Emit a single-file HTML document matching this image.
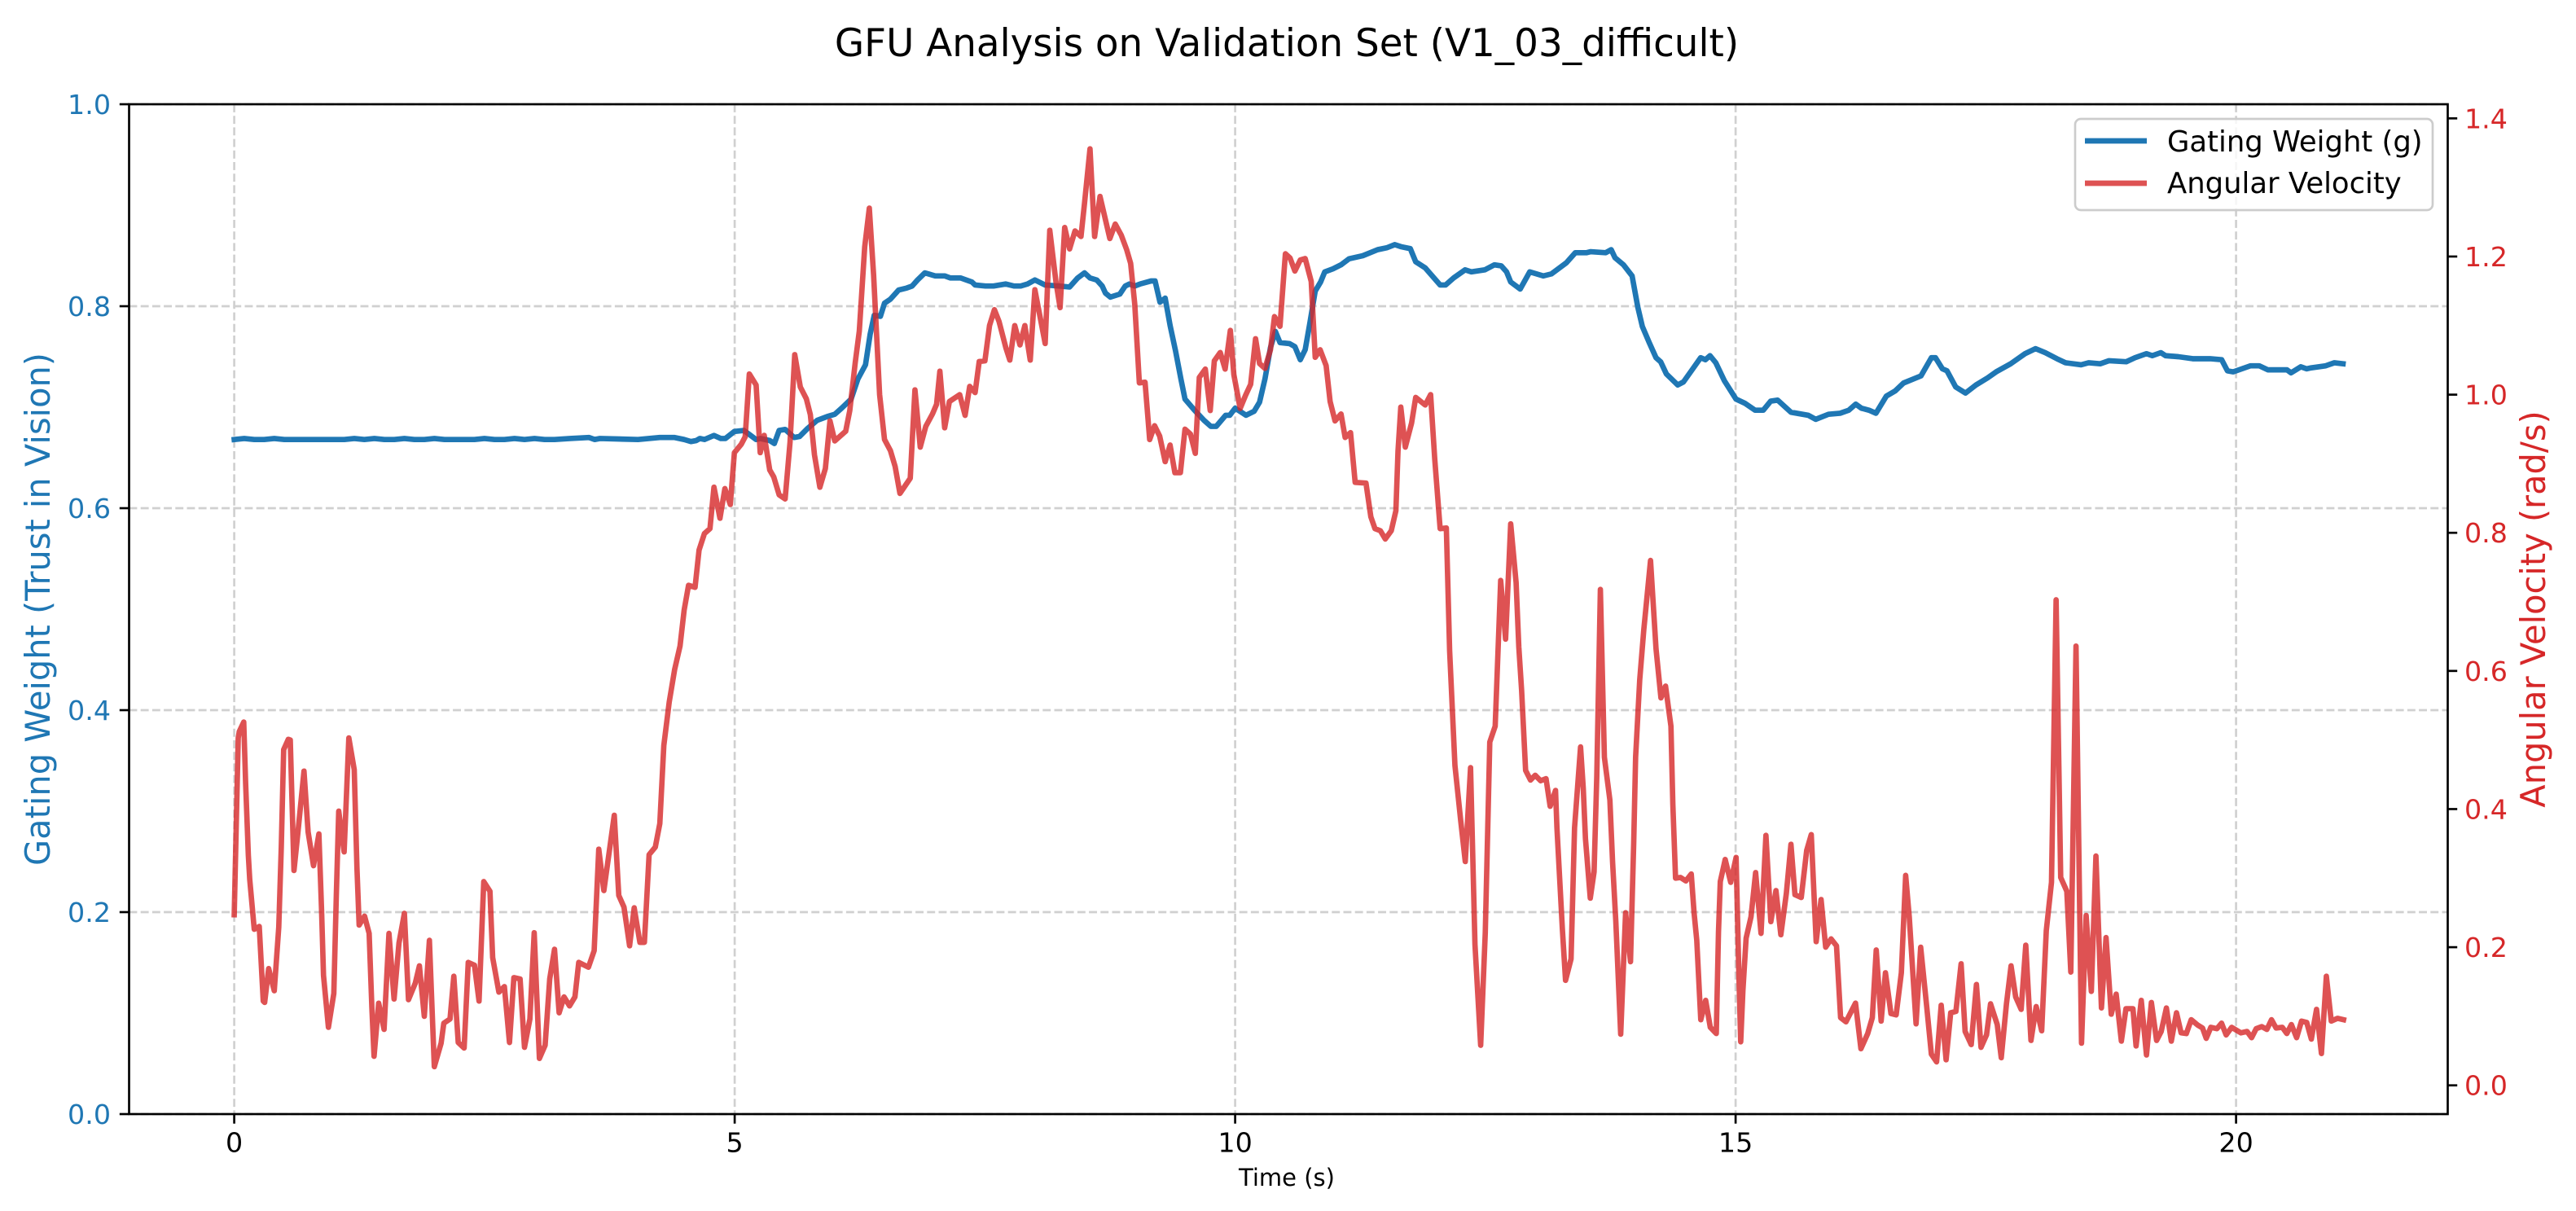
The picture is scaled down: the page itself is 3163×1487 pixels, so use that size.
<!DOCTYPE html>
<html lang="en">
<head>
<meta charset="utf-8">
<title>GFU Analysis on Validation Set (V1_03_difficult)</title>
<style>
html,body{margin:0;padding:0;background:#fff;width:3163px;height:1487px;overflow:hidden}
svg{display:block}
text{font-family:"DejaVu Sans","Liberation Sans",sans-serif}
</style>
</head>
<body>
<svg id="chart" xmlns="http://www.w3.org/2000/svg" width="3163" height="1487" viewBox="0 0 3163 1487">
  <rect x="0" y="0" width="3163" height="1487" fill="#ffffff"/>
  <text x="1580" y="69" font-size="46.8" text-anchor="middle" fill="#000">GFU Analysis on Validation Set (V1_03_difficult)</text>
  <g id="grid-layer"></g>
  <g id="series-layer"></g>
  <g id="axes-layer"></g>
  <text x="1580" y="1456" font-size="29" text-anchor="middle" fill="#000">Time (s)</text>
  <text transform="translate(47,748) rotate(-90)" y="14" font-size="41.5" text-anchor="middle" fill="#1f77b4">Gating Weight (Trust in Vision)</text>
  <text transform="translate(3111,748) rotate(-90)" y="14" font-size="41.5" text-anchor="middle" fill="#d62728">Angular Velocity (rad/s)</text>
  <g>
    <rect x="2548" y="146" width="439" height="112" rx="7" ry="7" fill="#ffffff" fill-opacity="0.8" stroke="#cccccc" stroke-width="2.67"/>
    <line x1="2560" y1="173" x2="2636" y2="173" stroke="#1f77b4" stroke-width="6.67"/>
    <text x="2661" y="186" font-size="35.4" fill="#000">Gating Weight (g)</text>
    <line x1="2560" y1="225" x2="2636" y2="225" stroke="#d62728" stroke-opacity="0.8" stroke-width="6.67"/>
    <text x="2661" y="237" font-size="35.4" fill="#000">Angular Velocity</text>
  </g>
</svg>
<script>
const xTickValues = [0, 5, 10, 15, 20];
const xTickLabels = ["0", "5", "10", "15", "20"];
const gatingTickValues = [0, 0.2, 0.4, 0.6, 0.8, 1.0];
const gatingTickLabels = ["0.0", "0.2", "0.4", "0.6", "0.8", "1.0"];
const angularTickValues = [0, 0.2, 0.4, 0.6, 0.8, 1.0, 1.2, 1.4];
const angularTickLabels = ["0.0", "0.2", "0.4", "0.6", "0.8", "1.0", "1.2", "1.4"];

const gatingTimes = [
0,.1,.2,.3,.4,.5,.6,.7,.8,.9,
1,1.1,1.2,1.3,1.4,1.5,1.6,1.7,1.8,1.9,
2,2.1,2.2,2.3,2.4,2.5,2.6,2.7,2.8,2.9,
3,3.1,3.2,3.356,3.546,3.6,3.654,4.034,4.251,4.40,
4.495,4.563,4.617,4.652,4.698,4.793,4.861,4.907,4.997,5.092,
5.146,5.214,5.255,5.35,5.396,5.444,5.504,5.594,5.648,5.729,
5.824,5.932,6.0,6.068,6.163,6.231,6.307,6.353,6.394,6.456,
6.497,6.556,6.638,6.719,6.773,6.827,6.90,7.004,7.098,7.153,
7.256,7.37,7.402,7.505,7.587,7.709,7.79,7.858,7.926,7.999,
8.102,8.238,8.346,8.427,8.495,8.55,8.617,8.672,8.704,8.753,
8.848,8.902,8.943,8.997,9.051,9.16,9.2,9.249,9.301,9.35,
9.404,9.458,9.499,9.594,9.689,9.757,9.811,9.905,9.946,10.0,
10.109,10.19,10.244,10.298,10.353,10.402,10.448,10.543,10.597,10.651,
10.70,10.746,10.80,10.854,10.895,10.977,11.058,11.139,11.275,11.424,
11.519,11.595,11.655,11.75,11.804,11.899,12.048,12.102,12.183,12.297,
12.36,12.495,12.59,12.658,12.712,12.753,12.848,12.943,13.079,13.16,
13.309,13.399,13.512,13.553,13.702,13.757,13.795,13.88,13.966,14.023,
14.068,14.137,14.205,14.251,14.308,14.422,14.479,14.565,14.651,14.698,
14.744,14.802,14.889,15.004,15.091,15.195,15.276,15.351,15.42,15.553,
15.726,15.801,15.928,16.044,16.13,16.2,16.257,16.333,16.402,16.506,
16.593,16.679,16.852,16.956,16.997,17.066,17.112,17.199,17.297,17.401,
17.517,17.603,17.748,17.892,17.996,18.094,18.21,18.296,18.452,18.527,
18.643,18.73,18.903,18.99,19.105,19.163,19.249,19.296,19.423,19.567,
19.74,19.856,19.914,19.971,20.058,20.145,20.231,20.318,20.405,20.508,
20.549,20.647,20.705,20.751,20.896,20.982,21.069
];
const gatingValues = [
.668,.669,.668,.668,.669,.668,.668,.668,.668,.668,
.668,.668,.669,.668,.669,.668,.668,.669,.668,.668,
.669,.668,.668,.668,.668,.669,.668,.668,.669,.668,
.669,.668,.668,.669,.670,.668,.669,.668,.670,.670,
.668,.666,.667,.669,.668,.672,.669,.669,.676,.677,
.673,.668,.669,.667,.664,.677,.678,.670,.671,.679,
.687,.691,.693,.699,.708,.728,.742,.772,.791,.79,
.803,.807,.816,.818,.820,.826,.833,.83,.83,.828,
.828,.824,.821,.82,.82,.822,.82,.82,.822,.826,
.821,.82,.819,.828,.833,.828,.826,.82,.813,.809,
.812,.82,.822,.82,.822,.825,.825,.804,.808,.781,
.756,.728,.708,.697,.687,.681,.681,.692,.692,.699,
.692,.696,.705,.728,.759,.775,.764,.763,.76,.747,
.757,.783,.815,.824,.834,.837,.841,.847,.85,.856,
.858,.861,.859,.857,.844,.838,.821,.821,.828,.836,
.834,.836,.841,.84,.834,.824,.817,.834,.83,.832,
.843,.853,.853,.854,.853,.856,.848,.841,.83,.799,
.78,.764,.749,.745,.733,.722,.725,.737,.749,.747,
.751,.744,.726,.708,.704,.697,.697,.706,.707,.695,
.692,.688,.693,.694,.697,.703,.699,.697,.694,.711,
.716,.724,.731,.749,.749,.738,.736,.72,.714,.722,
.729,.735,.743,.753,.758,.754,.748,.744,.742,.744,
.743,.746,.745,.749,.753,.751,.754,.751,.75,.748,
.748,.747,.736,.735,.738,.741,.741,.737,.737,.737,
.734,.74,.738,.739,.741,.744,.743
];

const angularTimes = [
0,.04,.05,.095,.114,.141,.155,.20,.25,.29,
.304,.344,.40,.445,.47,.494,.54,.56,.597,.637,
.697,.738,.792,.846,.873,.892,.941,.995,1.02,1.044,
1.098,1.145,1.199,1.226,1.248,1.302,1.348,1.375,1.397,1.443,
1.497,1.546,1.597,1.646,1.70,1.741,1.809,1.85,1.899,1.95,
1.999,2.067,2.094,2.156,2.194,2.238,2.297,2.338,2.40,2.446,
2.493,2.555,2.582,2.644,2.699,2.75,2.794,2.856,2.90,2.954,
2.997,3.049,3.106,3.152,3.20,3.246,3.295,3.35,3.404,3.442,
3.539,3.596,3.642,3.693,3.797,3.842,3.894,3.95,3.996,4.053,
4.098,4.145,4.207,4.252,4.292,4.346,4.40,4.454,4.495,4.539,
4.604,4.644,4.698,4.753,4.793,4.853,4.902,4.956,4.997,5.065,
5.105,5.146,5.214,5.255,5.295,5.35,5.39,5.444,5.504,5.553,
5.60,5.656,5.716,5.756,5.797,5.851,5.906,5.952,6.0,6.109,
6.15,6.204,6.245,6.299,6.345,6.388,6.448,6.497,6.556,6.603,
6.651,6.754,6.801,6.854,6.909,6.976,7.017,7.05,7.098,7.145,
7.248,7.302,7.348,7.402,7.443,7.5,7.546,7.595,7.641,7.709,
7.749,7.798,7.85,7.899,7.953,7.999,8.102,8.148,8.21,8.251,
8.297,8.346,8.40,8.46,8.495,8.55,8.596,8.65,8.748,8.802,
8.862,8.916,8.956,8.997,9.043,9.10,9.146,9.195,9.246,9.301,
9.35,9.398,9.453,9.499,9.553,9.602,9.642,9.702,9.751,9.792,
9.851,9.90,9.952,9.987,10.05,10.104,10.155,10.204,10.244,10.298,
10.353,10.393,10.448,10.502,10.548,10.597,10.651,10.70,10.76,10.80,
10.849,10.909,10.949,10.998,11.058,11.099,11.153,11.199,11.307,11.356,
11.397,11.451,11.50,11.56,11.606,11.627,11.655,11.70,11.763,11.804,
11.899,11.953,11.994,12.048,12.11,12.143,12.196,12.253,12.299,12.352,
12.396,12.453,12.499,12.544,12.598,12.653,12.702,12.753,12.807,12.834,
12.862,12.902,12.951,12.998,13.052,13.106,13.147,13.201,13.215,13.242,
13.269,13.301,13.356,13.391,13.451,13.478,13.5,13.548,13.586,13.613,
13.649,13.689,13.744,13.771,13.803,13.852,13.901,13.95,13.982,14.001,
14.042,14.083,14.15,14.205,14.254,14.3,14.354,14.373,14.4,14.449,
14.503,14.557,14.585,14.612,14.652,14.701,14.747,14.807,14.829,14.847,
14.896,14.951,15.005,15.032,15.051,15.073,15.105,15.154,15.2,15.254,
15.303,15.352,15.403,15.452,15.507,15.553,15.593,15.656,15.71,15.756,
15.805,15.854,15.90,15.954,16.008,16.049,16.103,16.198,16.252,16.32,
16.366,16.405,16.454,16.497,16.552,16.604,16.656,16.699,16.735,16.803,
16.849,16.91,16.956,17.008,17.054,17.103,17.149,17.201,17.253,17.293,
17.354,17.406,17.452,17.507,17.547,17.614,17.654,17.706,17.752,17.798,
17.853,17.899,17.951,18.003,18.058,18.104,18.156,18.202,18.248,18.309,
18.349,18.401,18.456,18.502,18.554,18.6,18.655,18.701,18.753,18.802,
18.854,18.9,18.97,19.001,19.053,19.105,19.154,19.206,19.252,19.304,
19.353,19.405,19.451,19.503,19.552,19.619,19.665,19.702,19.748,19.809,
19.855,19.901,19.956,20.048,20.11,20.155,20.201,20.256,20.308,20.354,
20.4,20.462,20.507,20.553,20.605,20.654,20.706,20.752,20.804,20.853,
20.902,20.951,21.013,21.074
];
const angularValues = [
.247,.503,.512,.526,.437,.333,.298,.226,.230,.122,
.120,.169,.137,.229,.344,.486,.501,.500,.311,.367,
.455,.367,.318,.364,.252,.159,.084,.133,.275,.397,
.338,.503,.457,.315,.232,.245,.220,.113,.042,.119,
.081,.220,.125,.206,.249,.124,.148,.173,.100,.210,
.027,.061,.090,.096,.158,.062,.054,.178,.174,.122,
.295,.281,.185,.135,.143,.062,.156,.154,.055,.096,
.221,.039,.058,.154,.197,.105,.128,.115,.128,.178,
.171,.195,.342,.282,.391,.275,.258,.202,.257,.207,
.207,.334,.345,.379,.492,.555,.602,.636,.688,.724,
.721,.775,.799,.806,.866,.821,.864,.841,.916,.928,
.939,1.03,1.014,.916,.941,.891,.881,.855,.849,.931,
1.058,1.011,.994,.971,.913,.866,.893,.962,.933,.947,
.977,1.046,1.092,1.214,1.27,1.173,1.0,.935,.919,.896,
.857,.879,1.007,.924,.954,.972,.986,1.034,.952,.99,
1.0,.97,1.012,1.003,1.048,1.049,1.1,1.123,1.106,1.068,
1.05,1.10,1.072,1.10,1.05,1.152,1.074,1.238,1.163,1.126,
1.242,1.211,1.237,1.229,1.277,1.356,1.229,1.287,1.226,1.247,
1.231,1.21,1.19,1.131,1.017,1.018,.935,.955,.94,.903,
.927,.887,.887,.95,.943,.915,1.025,1.037,.977,1.049,
1.061,1.037,1.093,1.029,.98,.999,1.015,1.081,1.045,1.038,
1.065,1.113,1.099,1.204,1.198,1.179,1.195,1.197,1.164,1.054,
1.065,1.042,.99,.962,.972,.938,.945,.873,.872,.823,
.806,.803,.791,.803,.832,.918,.982,.924,.959,.996,
.985,1.0,.907,.806,.807,.629,.463,.384,.324,.46,
.204,.058,.221,.497,.52,.731,.646,.813,.728,.635,
.572,.456,.442,.449,.441,.444,.404,.427,.373,.30,
.227,.152,.183,.373,.49,.43,.357,.271,.309,.447,
.718,.475,.413,.323,.238,.074,.25,.179,.351,.475,
.587,.66,.76,.632,.561,.578,.52,.407,.30,.301,
.296,.306,.25,.21,.095,.123,.084,.075,.222,.295,
.327,.294,.33,.165,.063,.137,.213,.244,.308,.22,
.362,.237,.282,.218,.278,.349,.276,.272,.34,.363,
.208,.269,.20,.212,.202,.098,.092,.119,.053,.075,
.098,.196,.093,.163,.104,.102,.163,.304,.244,.089,
.20,.113,.045,.034,.116,.037,.105,.107,.176,.078,
.059,.146,.055,.073,.118,.088,.04,.118,.173,.128,
.11,.203,.065,.114,.079,.224,.294,.703,.301,.281,
.164,.636,.061,.246,.136,.332,.112,.214,.103,.132,
.064,.111,.111,.057,.123,.044,.12,.065,.078,.112,
.064,.105,.076,.075,.095,.087,.083,.068,.084,.082,
.09,.073,.084,.076,.078,.069,.082,.085,.081,.095,
.083,.084,.075,.088,.069,.093,.091,.067,.11,.046,
.158,.093,.097,.095
];

const plotLeft = 158.5, plotRight = 3005.5, plotTop = 128, plotBottom = 1368;
const SVG_NS = "http://www.w3.org/2000/svg";

function xScale(t) { return 287.6 + t * 122.9; }
function gatingScale(v) { return plotBottom - v * (plotBottom - plotTop); }
function angularScale(v) { return 1332.7 - v * 848.1; }

function svgEl(tag, parent, attrs) {
  const el = document.createElementNS(SVG_NS, tag);
  for (const k in attrs) el.setAttribute(k, attrs[k]);
  parent.appendChild(el);
  return el;
}
function linePath(times, values, yFn) {
  const n = Math.min(times.length, values.length);
  const parts = [];
  for (let i = 0; i < n; i++) {
    parts.push((i ? "L" : "M") + xScale(times[i]).toFixed(2) + " " + yFn(values[i]).toFixed(2));
  }
  return parts.join("");
}

const gridLayer = document.getElementById("grid-layer");
const seriesLayer = document.getElementById("series-layer");
const axesLayer = document.getElementById("axes-layer");
const gridStyle = { stroke: "#d0d0d0", "stroke-width": 2.67, "stroke-dasharray": "9.9 4.3", fill: "none" };
const axisInk = "#000000";

xTickValues.forEach(function (v) {
  const x = xScale(v);
  const gridLine = svgEl("line", gridLayer, Object.assign({ x1: x, x2: x, y1: plotTop, y2: plotBottom }, gridStyle));
  
  
});
gatingTickValues.forEach(function (v) {
  const y = gatingScale(v);
  const gridLine = svgEl("line", gridLayer, Object.assign({ x1: plotLeft, x2: plotRight, y1: y, y2: y }, gridStyle));
  
  
});

const gatingLine = svgEl("path", seriesLayer, {
  d: linePath(gatingTimes, gatingValues, gatingScale),
  fill: "none", stroke: "#1f77b4", "stroke-width": 6.67,
  "stroke-linejoin": "round", "stroke-linecap": "square"
});



const angularLine = svgEl("path", seriesLayer, {
  d: linePath(angularTimes, angularValues, angularScale),
  fill: "none", stroke: "#d62728", "stroke-opacity": 0.8, "stroke-width": 6.67,
  "stroke-linejoin": "round", "stroke-linecap": "square"
});



const plotFrame = svgEl("rect", axesLayer, {
  x: plotLeft, y: plotTop, width: plotRight - plotLeft, height: plotBottom - plotTop,
  fill: "none", stroke: axisInk, "stroke-width": 2.67
});



xTickValues.forEach(function (v, i) {
  const x = xScale(v);
  const tick = svgEl("line", axesLayer, { x1: x, x2: x, y1: plotBottom, y2: plotBottom + 11.7, stroke: axisInk, "stroke-width": 2.67 });
  
  
  const label = svgEl("text", axesLayer, { x: x, y: 1414.5, "font-size": 33.3, "text-anchor": "middle", fill: "#000" });
  label.textContent = xTickLabels[i];
  
  
});
gatingTickValues.forEach(function (v, i) {
  const y = gatingScale(v);
  const tick = svgEl("line", axesLayer, { x1: plotLeft - 11.7, x2: plotLeft, y1: y, y2: y, stroke: axisInk, "stroke-width": 2.67 });
  
  
  const label = svgEl("text", axesLayer, { x: 136, y: y + 12, "font-size": 33.3, "text-anchor": "end", fill: "#1f77b4" });
  label.textContent = gatingTickLabels[i];
  
  
});
angularTickValues.forEach(function (v, i) {
  const y = angularScale(v);
  const tick = svgEl("line", axesLayer, { x1: plotRight, x2: plotRight + 11.7, y1: y, y2: y, stroke: axisInk, "stroke-width": 2.67 });
  
  
  const label = svgEl("text", axesLayer, { x: 3026, y: y + 12, "font-size": 33.3, "text-anchor": "start", fill: "#d62728" });
  label.textContent = angularTickLabels[i];
  
  
});
</script>
</body>
</html>
